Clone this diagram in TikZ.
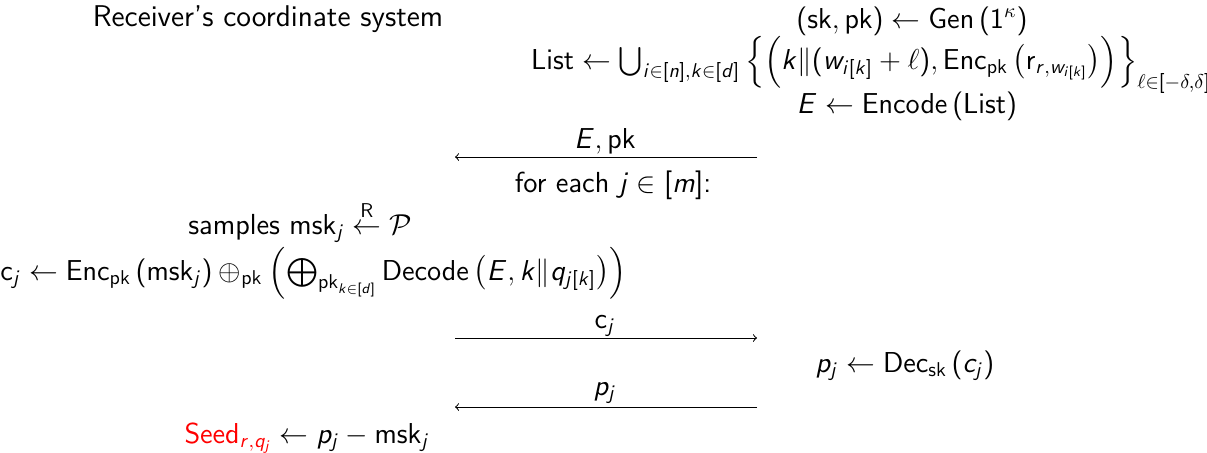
\documentclass[tikz,border=0pt]{standalone}
\usepackage{amsmath}
\renewcommand{\familydefault}{\sfdefault}
\DeclareSymbolFont{sfit}{OT1}{cmss}{m}{sl}
\SetSymbolFont{operators}{normal}{OT1}{cmss}{m}{n}
\def\sfl#1{\DeclareMathSymbol{#1}{\mathalpha}{sfit}{`#1}}
\sfl a\sfl b\sfl c\sfl d\sfl e\sfl f\sfl g\sfl h\sfl i\sfl j\sfl k\sfl l\sfl m
\sfl n\sfl o\sfl p\sfl q\sfl r\sfl s\sfl t\sfl u\sfl v\sfl w\sfl x\sfl y\sfl z
\sfl A\sfl B\sfl C\sfl D\sfl E\sfl F\sfl G\sfl H\sfl I\sfl J\sfl K\sfl L\sfl M
\sfl N\sfl O\sfl P\sfl Q\sfl R\sfl S\sfl T\sfl U\sfl V\sfl W\sfl X\sfl Y\sfl Z
\begin{document}
\begin{tikzpicture}[x=0.5pt,y=-0.5pt,
  txt/.style={anchor=base,inner sep=0pt,font=\fontsize{14.5}{17}\selectfont},
  msg/.style={->,line width=0.5pt}]
\useasboundingbox (0,0) rectangle (1207,452);
\node[txt,font=\fontsize{15}{18}\selectfont] (title) at (268,26) {Receiver's coordinate system};
\node[txt] (gen) at (912,28) {$(\mathsf{sk},\mathsf{pk})\leftarrow\mathsf{Gen}\left(1^{\kappa}\right)$};
\node[txt,font=\fontsize{14.2}{17}\selectfont] (list) at (871,69) {$\mathsf{List}\leftarrow\bigcup_{i\in[n],k\in[d]}\Big\{\Big(k\|(w_{i[k]}+\ell),\mathsf{Enc}_{\mathsf{pk}}\,\big(\mathsf{r}_{r,w_{i[k]}}\big)\Big)\Big\}_{\ell\in[-\delta,\delta]}$};
\node[txt] (enc) at (907,113) {$E\leftarrow\mathsf{Encode}\left(\mathsf{List}\right)$};
\coordinate (a1r) at (757,157);
\coordinate (a1l) at (455,157);
\draw[msg] (a1r) -- (a1l);
\node[txt] (l1) at (605,148) {$E,\mathsf{pk}$};
\node[txt] (fe) at (613,192) {for each $j\in[m]$:};
\node[txt] (samp) at (300,234) {samples $\mathsf{msk}_j\stackrel{\mathsf{R}}{\leftarrow}\mathcal{P}$};
\node[txt,anchor=base west] (cj) at (0,280) {$\mathsf{c}_j\leftarrow\mathsf{Enc}_{\mathsf{pk}}\left(\mathsf{msk}_j\right)\oplus_{\mathsf{pk}}\left(\bigoplus_{\mathsf{pk}_{k\in[d]}}\mathsf{Decode}\left(E,k\|q_{j[k]}\right)\right)$};
\coordinate (a2l) at (455,338);
\coordinate (a2r) at (757,338);
\draw[msg] (a2l) -- (a2r);
\node[txt] (l2) at (605,328) {$\mathsf{c}_j$};
\node[txt] (dec) at (905,372) {$p_j\leftarrow\mathsf{Dec}_{\mathsf{sk}}\left(c_j\right)$};
\coordinate (a3r) at (757,407);
\coordinate (a3l) at (455,407);
\draw[msg] (a3r) -- (a3l);
\node[txt] (l3) at (605,395) {$p_j$};
\node[txt] (seed) at (307,443) {$\textcolor{red}{\mathsf{Seed}_{r,q_j}}\leftarrow p_j-\mathsf{msk}_j$};
\end{tikzpicture}
\end{document}
